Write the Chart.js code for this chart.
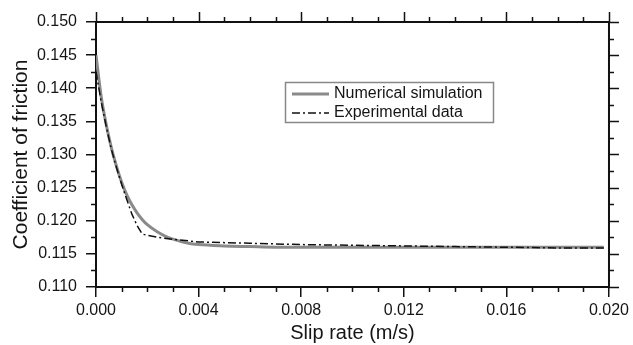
<!DOCTYPE html>
<html>
<head>
<meta charset="utf-8">
<script src="https://cdn.jsdelivr.net/npm/chart.js@4/dist/chart.umd.min.js"></script>
<style>
  html, body { margin: 0; padding: 0; background: #fff; }
  #wrap { width: 633px; height: 345px; }
</style>
</head>
<body>
<div id="wrap"><canvas id="friction-chart" width="633" height="345"></canvas></div>
<script>
// values
var simX = [0, 0.0002, 0.0004, 0.0006, 0.0008, 0.001, 0.0012, 0.0014, 0.0016, 0.0018, 0.002,
            0.0024, 0.0028, 0.0032, 0.0036, 0.004, 0.005, 0.006, 0.007, 0.008, 0.010,
            0.012, 0.014, 0.016, 0.018, 0.0198];
var simY = [0.1450, 0.1388, 0.1345, 0.1310, 0.1282, 0.1258, 0.1239, 0.1224, 0.1212, 0.1202, 0.1194,
            0.1183, 0.1175, 0.1170, 0.1166, 0.1164, 0.1162, 0.1161, 0.1160, 0.1160, 0.1160,
            0.1160, 0.1160, 0.1160, 0.1160, 0.1160];

var expX = [0, 0.0002, 0.0004, 0.0006, 0.0008, 0.001, 0.0012, 0.0014, 0.0016, 0.0018, 0.002,
            0.0024, 0.003, 0.004, 0.006, 0.008, 0.010, 0.012, 0.014, 0.016, 0.018, 0.0198];
var expY = [0.1425, 0.1380, 0.1342, 0.1308, 0.1280, 0.1255, 0.1232, 0.1210, 0.1193, 0.1180, 0.1178,
            0.1175, 0.1172, 0.1168, 0.1166, 0.1164, 0.1163, 0.1162, 0.1161, 0.1160, 0.1159, 0.1159];

var xTicks = [0, 0.004, 0.008, 0.012, 0.016, 0.020];
var yTicks = [0.110, 0.115, 0.120, 0.125, 0.130, 0.135, 0.140, 0.145, 0.150];
var seriesNames = ["Numerical simulation", "Experimental data"];

var FONT = "'Liberation Sans', Arial, sans-serif";
var INK = '#151515';

function toPoints(xs, ys){
  return xs.map(function(x, i){ return {x: x, y: ys[i]}; });
}

// frame, minor ticks, top/right ticks and the boxed legend
var framePlugin = {
  id: 'frame',
  afterDatasetsDraw: function(chart){
    var ctx = chart.ctx, a = chart.chartArea;
    var xs = chart.scales.x, ys = chart.scales.y;
    ctx.save();
    ctx.strokeStyle = '#111';
    ctx.lineWidth = 2;
    ctx.beginPath();
    ctx.moveTo(a.left, a.top); ctx.lineTo(a.right, a.top);
    ctx.moveTo(a.right, a.top); ctx.lineTo(a.right, a.bottom);
    ctx.stroke();

    ctx.lineWidth = 1.5;
    ctx.beginPath();
    // x: majors on top, minors top and bottom
    for (var i = 0; i <= 20; i++) {
      var px = Math.round(xs.getPixelForValue(i * 0.001)) + 0.5;
      var major = (i % 4 === 0);
      ctx.moveTo(px, a.top); ctx.lineTo(px, a.top - (major ? 10 : 5));
      if (!major) { ctx.moveTo(px, a.bottom); ctx.lineTo(px, a.bottom + 5); }
    }
    // y: majors on right, minors left and right
    for (var j = 0; j <= 16; j++) {
      var py = Math.round(ys.getPixelForValue(0.110 + j * 0.0025)) + 0.5;
      var majorY = (j % 2 === 0);
      ctx.moveTo(a.right, py); ctx.lineTo(a.right + (majorY ? 10 : 5), py);
      if (!majorY) { ctx.moveTo(a.left, py); ctx.lineTo(a.left - 5, py); }
    }
    ctx.stroke();

    // legend box
    var bx = 285.5, by = 82.5, bw = 208, bh = 40;
    ctx.fillStyle = '#fff';
    ctx.fillRect(bx, by, bw, bh);
    ctx.strokeStyle = '#888';
    ctx.lineWidth = 1.5;
    ctx.strokeRect(bx, by, bw, bh);
    var rows = [94, 113];
    chart.data.datasets.forEach(function(ds, k){
      ctx.strokeStyle = ds.borderColor;
      ctx.lineWidth = ds.borderWidth;
      ctx.setLineDash(ds.borderDash || []);
      ctx.beginPath();
      ctx.moveTo(292, rows[k]); ctx.lineTo(329, rows[k]);
      ctx.stroke();
      ctx.setLineDash([]);
      ctx.fillStyle = INK;
      ctx.font = '16px ' + FONT;
      ctx.textBaseline = 'middle';
      ctx.textAlign = 'left';
      ctx.fillText(ds.label, 334, rows[k]);
    });
    ctx.restore();
  }
};

new Chart(document.getElementById("friction-chart"), {
  type: 'scatter',
  data: {
    datasets: [{
      label: seriesNames[0],
      data: toPoints(simX, simY),
      showLine: true,
      borderColor: '#8a8a8a',
      borderWidth: 3,
      pointRadius: 0,
      cubicInterpolationMode: 'monotone',
      order: 2
    }, {
      label: seriesNames[1],
      data: toPoints(expX, expY),
      showLine: true,
      borderColor: '#111',
      borderWidth: 1.5,
      borderDash: [8, 3, 2, 3],
      pointRadius: 0,
      tension: 0,
      order: 1
    }]
  },
  options: {
    responsive: false,
    animation: false,
    devicePixelRatio: 1,
    layout: { padding: { top: 22, right: 21, left: 0, bottom: 0 } },
    plugins: {
      legend: { display: false },
      tooltip: { enabled: false }
    },
    scales: {
      x: {
        type: 'linear',
        min: 0,
        max: 0.02,
        afterBuildTicks: function(scale){ scale.ticks = xTicks.map(function(v){ return {value: v}; }); },
        afterFit: function(scale){ scale.height = 58; },
        ticks: {
          callback: function(v){ return Number(v).toFixed(3); },
          font: { family: FONT, size: 16 },
          color: INK,
          padding: 4,
          maxRotation: 0,
          autoSkip: false
        },
        grid: { drawOnChartArea: false, drawTicks: true, tickLength: 10, color: '#111', lineWidth: 1.5 },
        border: { color: '#111', width: 2 },
        title: {
          display: true,
          text: 'Slip rate (m/s)',
          font: { family: FONT, size: 20 },
          color: INK,
          padding: { top: 0, bottom: 0 }
        }
      },
      y: {
        type: 'linear',
        min: 0.11,
        max: 0.15,
        afterBuildTicks: function(scale){ scale.ticks = yTicks.map(function(v){ return {value: v}; }); },
        afterFit: function(scale){ scale.width = 96; },
        ticks: {
          callback: function(v){ return Number(v).toFixed(3); },
          font: { family: FONT, size: 16 },
          color: INK,
          padding: 9,
          autoSkip: false
        },
        grid: { drawOnChartArea: false, drawTicks: true, tickLength: 10, color: '#111', lineWidth: 1.5 },
        border: { color: '#111', width: 2 },
        title: {
          display: true,
          text: 'Coefficient of friction',
          font: { family: FONT, size: 21 },
          color: INK,
          padding: { top: 9, bottom: 0 }
        }
      }
    }
  },
  plugins: [framePlugin]
});
</script>
</body>
</html>
